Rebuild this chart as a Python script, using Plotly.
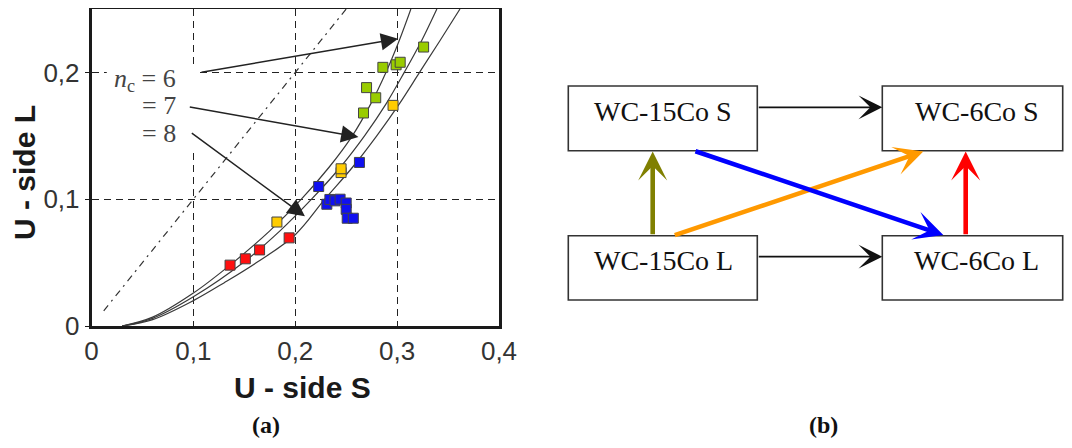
import plotly.graph_objects as go

# page body adds an 8px margin; the figure is sized so the window shows it exactly
OFF = 8
W, H = 1072 - 2 * OFF, 448 - 2 * OFF

# ---------------- panel (a) data ----------------
red_x = [0.136, 0.151, 0.165, 0.194]
red_y = [0.048, 0.053, 0.060, 0.0695]
yellow_x = [0.182, 0.245, 0.245, 0.296]
yellow_y = [0.082, 0.121, 0.124, 0.174]
blue_x = [0.223, 0.263, 0.231, 0.234, 0.239, 0.244, 0.250, 0.250, 0.251, 0.257]
blue_y = [0.110, 0.129, 0.096, 0.0998, 0.0987, 0.100, 0.097, 0.092, 0.085, 0.085]
green_x = [0.267, 0.279, 0.270, 0.286, 0.299, 0.303, 0.326]
green_y = [0.168, 0.180, 0.188, 0.204, 0.206, 0.208, 0.220]

nc6_x = [0.03, 0.06, 0.10, 0.139, 0.175, 0.206, 0.233, 0.256, 0.274, 0.289, 0.302, 0.3135]
nc6_y = [0.0, 0.007, 0.026, 0.050, 0.075, 0.100, 0.125, 0.150, 0.175, 0.200, 0.225, 0.250]
nc7_x = [0.03, 0.06, 0.10, 0.149, 0.185, 0.216, 0.244, 0.268, 0.289, 0.307, 0.324, 0.339]
nc7_y = [0.0, 0.006, 0.023, 0.050, 0.075, 0.100, 0.125, 0.150, 0.175, 0.200, 0.225, 0.250]
nc8_x = [0.03, 0.06, 0.10, 0.13, 0.162, 0.200, 0.229, 0.256, 0.280, 0.302, 0.322, 0.342, 0.3617]
nc8_y = [0.0, 0.005, 0.020, 0.034, 0.050, 0.072, 0.100, 0.125, 0.150, 0.175, 0.200, 0.225, 0.250]
diag_x = [0.012, 0.25]
diag_y = [0.012, 0.25]

x_ticks = [0, 0.1, 0.2, 0.3, 0.4]
x_ticktext = ["0", "0,1", "0,2", "0,3", "0,4"]
y_ticks = [0, 0.1, 0.2]
y_ticktext = ["0", "0,1", "0,2"]

nc_labels = ["<i>n</i><sub>c</sub> = 6", "= 7", "= 8"]
nc_label_y = [0.1937, 0.174, 0.152]
nc_arrow_tail = [(0.1065, 0.200), (0.095, 0.173), (0.097, 0.153)]
nc_arrow_head = [(0.301, 0.2265), (0.262, 0.149), (0.2095, 0.0865)]

# ---------------- panel (b) data ----------------
nodes = ["WC-15Co S", "WC-6Co S", "WC-15Co L", "WC-6Co L"]
links_black = [("WC-15Co S", "WC-6Co S"), ("WC-15Co L", "WC-6Co L")]
links_color = [("WC-15Co L", "WC-15Co S", "#808000"),
               ("WC-15Co L", "WC-6Co S", "#ff9900"),
               ("WC-15Co S", "WC-6Co L", "#0000ff"),
               ("WC-6Co L", "WC-6Co S", "#ff0000")]

# ---------------- figure ----------------
def fx(px):
    return (px - OFF) / W

def fy(py):
    return 1 - (py - OFF) / H

fig = go.Figure()

curve_style = dict(color="#3a3a3a", width=1.2)
for cx, cy in [(nc6_x, nc6_y), (nc7_x, nc7_y), (nc8_x, nc8_y)]:
    fig.add_trace(go.Scatter(x=cx, y=cy, mode="lines", line=dict(shape="spline", smoothing=1.0, **curve_style),
                             showlegend=False, hoverinfo="skip"))
fig.add_trace(go.Scatter(x=diag_x, y=diag_y, mode="lines",
                         line=dict(color="#333", width=1.2, dash="7px,5px,2px,5px"),
                         showlegend=False, hoverinfo="skip"))

for xs, ys, col in [(red_x, red_y, "#ff1010"), (yellow_x, yellow_y, "#ffcc00"),
                    (blue_x, blue_y, "#1010f0"), (green_x, green_y, "#99cc00")]:
    fig.add_trace(go.Scatter(x=xs, y=ys, mode="markers",
                             marker=dict(symbol="square", size=10, color=col,
                                         line=dict(color="#444", width=1)),
                             showlegend=False))

fig.update_layout(
    width=W, height=H, margin=dict(l=0, r=0, t=0, b=0, autoexpand=False),
    paper_bgcolor="white", plot_bgcolor="white",
    xaxis=dict(domain=[fx(91.5), fx(499)], range=[0, 0.4], tickvals=x_ticks, ticktext=x_ticktext,
               showgrid=True, gridcolor="#222", gridwidth=1.2, griddash="7px,5px", automargin=False,
               zeroline=False, showline=True, linecolor="#1a1a1a", linewidth=2.5, mirror=True,
               ticks="", ticklabelstandoff=0,
               tickfont=dict(family="Liberation Sans, Arial", size=26, color="#333")),
    yaxis=dict(domain=[fy(326), fy(9)], range=[0, 0.25], tickvals=y_ticks, ticktext=y_ticktext,
               showgrid=True, gridcolor="#222", gridwidth=1.2, griddash="7px,5px", automargin=False,
               zeroline=False, showline=True, linecolor="#1a1a1a", linewidth=2.5, mirror=True,
               ticks="outside", ticklen=4, tickcolor="#1a1a1a", ticklabelstandoff=0,
               tickfont=dict(family="Liberation Sans, Arial", size=26, color="#333")),
)

shapes = []
# white patch behind the n_c labels (hides grid lines there)
shapes.append(dict(type="rect", xref="x", yref="y", x0=0.015, x1=0.102, y0=0.14, y1=0.203,
                   fillcolor="white", line=dict(width=0), layer="between"))

annotations = []
for txt, ly in zip(nc_labels, nc_label_y):
    annotations.append(dict(x=0.085, y=ly, xref="x", yref="y", text=txt, showarrow=False,
                            xanchor="right", yanchor="middle",
                            font=dict(family="Liberation Serif, Times New Roman", size=26, color="#444")))
for (tx, ty), (hx, hy) in zip(nc_arrow_tail, nc_arrow_head):
    annotations.append(dict(x=hx, y=hy, ax=tx, ay=ty, xref="x", yref="y", axref="x", ayref="y",
                            text="", showarrow=True, arrowhead=2, arrowsize=2.3, arrowwidth=1.5,
                            arrowcolor="#222", standoff=0))

def label(px, py, txt, font, angle=0, yanchor="middle"):
    return dict(x=fx(px), y=fy(py), xref="paper", yref="paper", text=txt, showarrow=False,
                xanchor="center", yanchor=yanchor, textangle=angle, font=font)

sans_bold = dict(family="Liberation Sans, Arial", size=30, color="#1a1a1a")
serif_bold = dict(family="Liberation Serif, Times New Roman", size=24, color="#111")
annotations.append(label(302.5, 387, "<b>U - side S</b>", sans_bold))
annotations.append(label(24, 173, "<b>U - side L</b>", sans_bold, -90))
annotations.append(label(266, 440, "<b>(a)</b>", serif_bold, yanchor="bottom"))
annotations.append(label(823, 440, "<b>(b)</b>", serif_bold, yanchor="bottom"))

# panel (b) boxes (pixel positions in the window)
box = {"WC-15Co S": (568.3, 86, 757.3, 150.7),
       "WC-6Co S": (882.3, 86, 1062.7, 150.7),
       "WC-15Co L": (568.3, 235.7, 757.3, 300),
       "WC-6Co L": (882.3, 235.7, 1062.7, 300)}
text_pos = {"WC-15Co S": (663.3, 111.7), "WC-6Co S": (976.7, 111.7),
            "WC-15Co L": (663.3, 260), "WC-6Co L": (976.7, 260)}
node_font = dict(family="Liberation Serif, Times New Roman", size=28, color="#111")
for name in nodes:
    bx0, by0, bx1, by1 = box[name]
    shapes.append(dict(type="rect", xref="paper", yref="paper",
                       x0=fx(bx0), x1=fx(bx1), y0=fy(by1), y1=fy(by0),
                       line=dict(color="#333", width=1.6), fillcolor="rgba(0,0,0,0)"))
    tx, ty = text_pos[name]
    annotations.append(label(tx, ty, name, node_font))

# arrow endpoints (pixels) for the links
black_pts = {("WC-15Co S", "WC-6Co S"): ((757.3, 107.3), (882.3, 107.3)),
             ("WC-15Co L", "WC-6Co L"): ((757.3, 256.7), (882.3, 256.7))}
color_pts = {("WC-15Co L", "WC-15Co S"): ((652.7, 235.7), (652.7, 151.5)),
             ("WC-15Co L", "WC-6Co S"): ((673.3, 235.7), (923.3, 151.5)),
             ("WC-15Co S", "WC-6Co L"): ((694.0, 150.7), (943.3, 235.0)),
             ("WC-6Co L", "WC-6Co S"): ((965.7, 235.7), (965.7, 151.5))}
for a, b in links_black:
    (tx, ty), (hx, hy) = black_pts[(a, b)]
    annotations.append(dict(x=fx(hx), y=fy(hy), xref="paper", yref="paper",
                            ax=tx - hx, ay=ty - hy, axref="pixel", ayref="pixel",
                            text="", showarrow=True, arrowhead=3, arrowsize=2.2, arrowwidth=1.8,
                            arrowcolor="#111", standoff=0))
for a, b, col in links_color:
    (tx, ty), (hx, hy) = color_pts[(a, b)]
    annotations.append(dict(x=fx(hx), y=fy(hy), xref="paper", yref="paper",
                            ax=tx - hx, ay=ty - hy, axref="pixel", ayref="pixel",
                            text="", showarrow=True, arrowhead=3, arrowsize=1.05, arrowwidth=4.6,
                            arrowcolor=col, standoff=0))

fig.update_layout(shapes=shapes, annotations=annotations)
fig.write_html("out.html")
